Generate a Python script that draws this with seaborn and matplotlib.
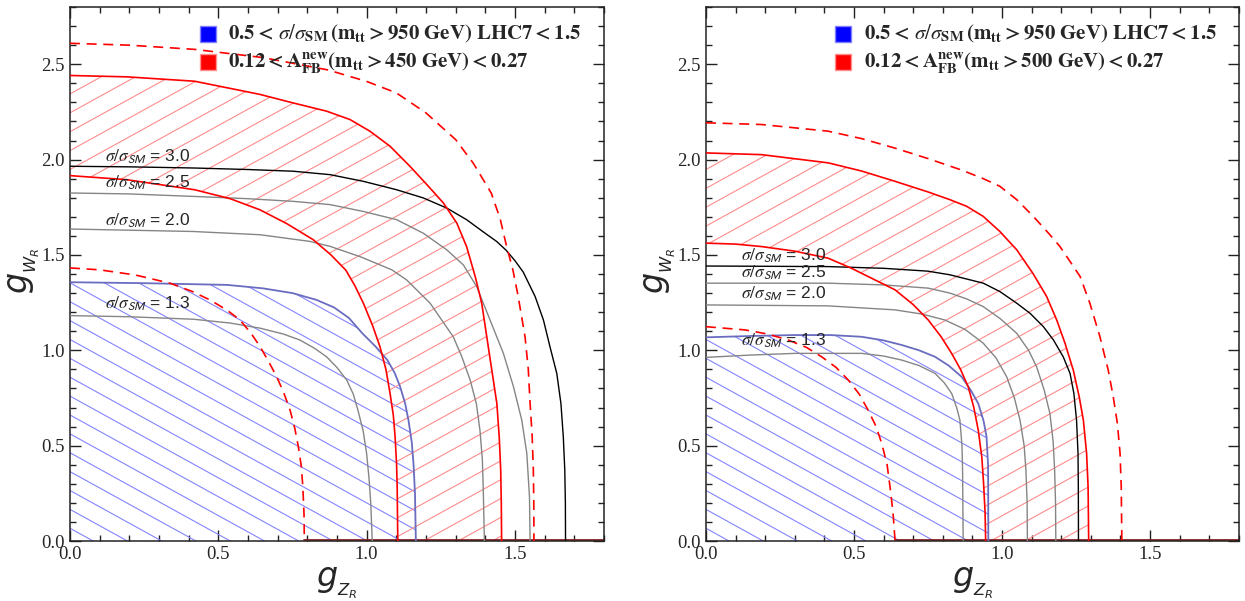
import numpy as np
import seaborn as sns
import matplotlib
matplotlib.use("Agg")
import matplotlib.pyplot as plt
from matplotlib.ticker import MultipleLocator, FormatStrFormatter

# ---- left panel (A_FB with m_tt > 450 GeV) ----
l_blue_x = [0.0, 0.25, 0.53, 0.65, 0.75, 0.83, 0.89, 0.94, 0.985, 1.03, 1.07, 1.095, 1.113, 1.13,
            1.141, 1.152, 1.158, 1.163, 1.166]
l_blue_y = [1.357, 1.352, 1.343, 1.325, 1.30, 1.265, 1.225, 1.17, 1.09, 1.02, 0.949, 0.88, 0.809, 0.72,
            0.634, 0.52, 0.406, 0.25, 0.0]
l_red_out_x = [0.0, 0.191, 0.42, 0.64, 0.75, 0.865, 0.944, 1.011, 1.079, 1.146, 1.203, 1.259, 1.304,
               1.337, 1.366, 1.388, 1.405, 1.422, 1.439, 1.447, 1.452, 1.454, 1.455]
l_red_out_y = [2.441, 2.434, 2.411, 2.342, 2.298, 2.254, 2.21, 2.149, 2.07, 1.965, 1.869, 1.772, 1.667,
               1.544, 1.387, 1.247, 1.071, 0.896, 0.721, 0.546, 0.371, 0.196, 0.0]
l_red_in_x = [0.0, 0.19, 0.42, 0.54, 0.64, 0.73, 0.82, 0.88, 0.93, 0.96, 0.989, 1.02, 1.045, 1.065,
              1.079, 1.09, 1.096, 1.101, 1.103, 1.105]
l_red_in_y = [1.916, 1.895, 1.842, 1.795, 1.737, 1.665, 1.58, 1.50, 1.42, 1.34, 1.247, 1.13, 1.019, 0.90,
              0.774, 0.66, 0.546, 0.40, 0.283, 0.0]
l_dash_out_x = [0.0, 0.2, 0.42, 0.65, 0.87, 1.0, 1.10, 1.2, 1.30, 1.36, 1.42, 1.45, 1.472, 1.493, 1.51,
                1.534, 1.545, 1.551, 1.558, 1.562, 1.5635, 1.564]
l_dash_out_y = [2.61, 2.60, 2.578, 2.535, 2.47, 2.41, 2.35, 2.245, 2.105, 1.98, 1.825, 1.69, 1.544, 1.422,
                1.29, 1.071, 0.90, 0.723, 0.55, 0.371, 0.2, 0.0]
l_dash_in_x = [0.0, 0.1, 0.22, 0.337, 0.41, 0.472, 0.53, 0.573, 0.61, 0.641, 0.67, 0.697, 0.72, 0.742,
               0.758, 0.77, 0.78, 0.785, 0.789, 0.79]
l_dash_in_y = [1.432, 1.422, 1.395, 1.352, 1.31, 1.264, 1.21, 1.159, 1.09, 1.019, 0.94, 0.861, 0.78, 0.686,
               0.59, 0.493, 0.39, 0.283, 0.14, 0.0]
l_s13_x = [0.0, 0.2, 0.416, 0.54, 0.641, 0.72, 0.775, 0.825, 0.865, 0.90, 0.933, 0.955, 0.97, 0.988, 1.0,
           1.008, 1.014, 1.019]
l_s13_y = [1.182, 1.176, 1.163, 1.143, 1.116, 1.085, 1.054, 1.01, 0.966, 0.91, 0.844, 0.77, 0.69, 0.58,
           0.459, 0.33, 0.196, 0.0]
l_s20_x = [0.0, 0.416, 0.641, 0.809, 0.877, 0.98, 1.085, 1.135, 1.214, 1.292, 1.32, 1.349, 1.37, 1.382,
           1.39, 1.393, 1.397]
l_s20_y = [1.636, 1.623, 1.606, 1.571, 1.545, 1.49, 1.422, 1.369, 1.247, 1.071, 0.97, 0.844, 0.72, 0.581,
           0.43, 0.283, 0.0]
l_s25_x = [0.0, 0.2, 0.416, 0.6, 0.753, 0.877, 0.989, 1.101, 1.191, 1.27, 1.326, 1.371, 1.416, 1.461,
           1.495, 1.523, 1.54, 1.549, 1.551]
l_s25_y = [1.825, 1.82, 1.807, 1.795, 1.781, 1.764, 1.728, 1.685, 1.614, 1.527, 1.448, 1.334, 1.159, 0.984,
           0.809, 0.634, 0.459, 0.231, 0.0]
l_s30_x = [0.0, 0.2, 0.416, 0.6, 0.753, 0.877, 0.989, 1.101, 1.191, 1.27, 1.337, 1.394, 1.439, 1.47,
           1.50, 1.528, 1.568, 1.596, 1.618, 1.641, 1.655, 1.663, 1.668, 1.67, 1.6705]
l_s30_y = [1.965, 1.962, 1.956, 1.948, 1.939, 1.921, 1.886, 1.842, 1.799, 1.746, 1.685, 1.62, 1.57,
           1.525, 1.47, 1.41, 1.282, 1.159, 1.019, 0.879, 0.721, 0.546, 0.371, 0.196, 0.0]
l_label_y = [1.195, 1.632, 1.83, 1.968]

# ---- right panel (A_FB with m_tt > 500 GeV) ----
r_blue_x = [0.0, 0.15, 0.30, 0.42, 0.526, 0.60, 0.661, 0.72, 0.774, 0.82, 0.864, 0.895, 0.92, 0.938,
            0.948, 0.953, 0.9535, 0.954]
r_blue_y = [1.068, 1.075, 1.08, 1.08, 1.071, 1.052, 1.028, 1.0, 0.966, 0.92, 0.861, 0.79, 0.721, 0.63,
            0.546, 0.40, 0.283, 0.0]
r_red_out_x = [0.0, 0.188, 0.413, 0.526, 0.639, 0.751, 0.824, 0.881, 0.937, 0.993, 1.05, 1.106, 1.151,
               1.185, 1.213, 1.241, 1.261, 1.275, 1.286, 1.291, 1.293]
r_red_out_y = [2.035, 2.026, 1.983, 1.94, 1.886, 1.83, 1.79, 1.755, 1.702, 1.623, 1.527, 1.40, 1.282,
               1.159, 1.037, 0.896, 0.756, 0.634, 0.459, 0.283, 0.0]
r_red_in_x = [0.0, 0.1, 0.188, 0.3, 0.413, 0.492, 0.57, 0.639, 0.70, 0.751, 0.795, 0.83, 0.86, 0.886,
              0.905, 0.92, 0.932, 0.938, 0.943, 0.945]
r_red_in_y = [1.562, 1.557, 1.544, 1.52, 1.483, 1.43, 1.37, 1.317, 1.24, 1.159, 1.07, 0.984, 0.90, 0.809,
              0.70, 0.581, 0.44, 0.301, 0.15, 0.0]
r_dash_out_x = [0.0, 0.188, 0.413, 0.526, 0.639, 0.751, 0.864, 0.937, 0.993, 1.05, 1.106, 1.162, 1.196,
                1.23, 1.264, 1.297, 1.331, 1.359, 1.376, 1.39, 1.399, 1.403, 1.405]
r_dash_out_y = [2.193, 2.184, 2.149, 2.11, 2.06, 2.005, 1.945, 1.90, 1.86, 1.79, 1.702, 1.606, 1.544,
                1.466, 1.387, 1.247, 1.071, 0.896, 0.756, 0.616, 0.459, 0.283, 0.0]
r_dash_in_x = [0.0, 0.132, 0.21, 0.278, 0.34, 0.391, 0.44, 0.481, 0.518, 0.548, 0.575, 0.594, 0.612,
               0.622, 0.632, 0.639]
r_dash_in_y = [1.124, 1.107, 1.085, 1.054, 1.015, 0.966, 0.91, 0.844, 0.77, 0.686, 0.60, 0.511, 0.40,
               0.283, 0.15, 0.0]
r_s13_x = [0.0, 0.15, 0.301, 0.526, 0.60, 0.661, 0.72, 0.774, 0.805, 0.83, 0.847, 0.858, 0.865, 0.867,
           0.869]
r_s13_y = [0.963, 0.975, 0.984, 0.984, 0.97, 0.949, 0.92, 0.879, 0.83, 0.774, 0.70, 0.634, 0.50, 0.371,
           0.0]
r_s20_x = [0.0, 0.413, 0.639, 0.73, 0.807, 0.875, 0.937, 0.98, 1.016, 1.042, 1.061, 1.075, 1.081, 1.085,
           1.086]
r_s20_y = [1.238, 1.233, 1.212, 1.19, 1.159, 1.11, 1.037, 0.96, 0.861, 0.75, 0.634, 0.50, 0.371, 0.2, 0.0]
r_s25_x = [0.0, 0.413, 0.6, 0.751, 0.824, 0.88, 0.937, 0.995, 1.05, 1.09, 1.117, 1.143, 1.162, 1.173,
           1.178, 1.181, 1.182]
r_s25_y = [1.352, 1.352, 1.343, 1.326, 1.30, 1.27, 1.229, 1.165, 1.089, 1.0, 0.914, 0.79, 0.669, 0.52,
           0.371, 0.2, 0.0]
r_s30_x = [0.0, 0.413, 0.6, 0.75, 0.824, 0.937, 0.993, 1.05, 1.095, 1.14, 1.174, 1.207, 1.23, 1.243,
           1.252, 1.257, 1.258, 1.2585]
r_s30_y = [1.442, 1.439, 1.43, 1.415, 1.396, 1.352, 1.308, 1.247, 1.194, 1.124, 1.054, 0.966, 0.879,
           0.774, 0.634, 0.459, 0.283, 0.0]
r_label_y = [1.0, 1.25, 1.36, 1.448]

label_vals = ["1.3", "2.0", "2.5", "3.0"]
legend_blue = r"$\mathbf{0.5 < }\,\sigma/\sigma_{\mathbf{SM}}\,\mathbf{(m_{tt} > 950\ GeV)\ LHC7 < 1.5}$"
legend_red_l = r"$\mathbf{0.12 < A_{FB}^{new}(m_{tt} > 450\ GeV) < 0.27}$"
legend_red_r = r"$\mathbf{0.12 < A_{FB}^{new}(m_{tt} > 500\ GeV) < 0.27}$"

sns.set_style("ticks")
plt.rcParams["font.family"] = ["Liberation Serif", "DejaVu Serif"]
plt.rcParams["mathtext.fontset"] = "stix"


def hatch(ax, px, py, color, sign):
    # hatch lines at ~30 degrees, clipped to the region
    patch = ax.fill(px, py, facecolor="none", edgecolor="none")[0]
    xs = np.array([-0.1, 1.9])
    for c in np.arange(-3.2, 4.5, 0.099):
        ln, = ax.plot(xs, sign * 0.857 * xs + c, color=color, lw=0.8, zorder=1)
        ln.set_clip_path(patch)


def curve(ax, x, y, color, lw=1.0, ls="-"):
    sns.lineplot(x=x, y=y, ax=ax, color=color, lw=lw, linestyle=ls, sort=False,
                 estimator=None, zorder=3)


def panel(ax, d, label_y, red_text):
    blue_x, blue_y, ro_x, ro_y, ri_x, ri_y, do_x, do_y, di_x, di_y, grays = d
    hatch(ax, [0] + blue_x, [0] + blue_y, "#8484ff", -1)
    hatch(ax, ro_x + ri_x[::-1], ro_y + ri_y[::-1], "#ff8c8c", 1)
    for (gx, gy), col in zip(grays, ["#858585", "#858585", "#858585", "#000000"]):
        curve(ax, gx, gy, col, lw=1.0)
    curve(ax, blue_x, blue_y, "#6a6cc0", lw=1.3)
    curve(ax, ro_x, ro_y, "#ff0000", lw=1.2)
    curve(ax, ri_x, ri_y, "#ff0000", lw=1.2)
    curve(ax, do_x, do_y, "#ff0000", lw=1.2, ls=(0, (6, 4)))
    curve(ax, di_x, di_y, "#ff0000", lw=1.2, ls=(0, (6, 4)))
    ax.plot([di_x[-1], 1.8], [0.004, 0.004], color="#8a2020", lw=1.3, zorder=2)

    for ly, lv in zip(label_y, label_vals):
        ax.text(0.118, ly, r"$\sigma/\sigma_{\mathsf{SM}}$ = " + lv, fontsize=12.5,
                family="Liberation Sans", va="bottom", ha="left", zorder=5)

    ax.set_xlim(0, 1.8)
    ax.set_ylim(0, 2.8)
    ax.xaxis.set_major_locator(MultipleLocator(0.5))
    ax.xaxis.set_minor_locator(MultipleLocator(0.1))
    ax.yaxis.set_major_locator(MultipleLocator(0.5))
    ax.yaxis.set_minor_locator(MultipleLocator(0.1))
    ax.tick_params(which="both", direction="in", top=True, right=True, labelsize=13.5,
                   width=1, color="#222222")
    ax.tick_params(which="major", length=8)
    ax.tick_params(which="minor", length=4)
    ax.xaxis.set_major_formatter(FormatStrFormatter("%.1f"))
    ax.yaxis.set_major_formatter(FormatStrFormatter("%.1f"))
    for s in ax.spines.values():
        s.set_linewidth(1.1)
        s.set_color("#222222")

    ax.set_xlabel(r"$g_{_{Z_R}}$", fontsize=24, math_fontfamily="dejavusans")
    ax.xaxis.set_label_coords(0.5, -0.046)
    ax.set_ylabel(r"$g_{_{W_R}}$", fontsize=24, math_fontfamily="dejavusans")
    ax.yaxis.set_label_coords(-0.052, 0.506)

    # legend boxes
    ax.plot([0.258], [0.949], marker="s", ms=11, mfc="#0000ff", mec="#8080ff", mew=1,
            transform=ax.transAxes, zorder=6)
    ax.plot([0.258], [0.897], marker="s", ms=11, mfc="#ff0000", mec="#ff9090", mew=1,
            transform=ax.transAxes, zorder=6)
    ax.text(0.296, 0.949, legend_blue, transform=ax.transAxes, fontsize=15,
            va="center", ha="left", zorder=6)
    ax.text(0.296, 0.897, red_text, transform=ax.transAxes, fontsize=15,
            va="center", ha="left", zorder=6)


fig = plt.figure(figsize=(12.45, 6.01), dpi=100)
ax1 = fig.add_axes([0.0562, 0.0998, 0.4289, 0.8885])
ax2 = fig.add_axes([0.567, 0.0998, 0.428, 0.8885])

left = (l_blue_x, l_blue_y, l_red_out_x, l_red_out_y, l_red_in_x, l_red_in_y,
        l_dash_out_x, l_dash_out_y, l_dash_in_x, l_dash_in_y,
        [(l_s13_x, l_s13_y), (l_s20_x, l_s20_y), (l_s25_x, l_s25_y), (l_s30_x, l_s30_y)])
right = (r_blue_x, r_blue_y, r_red_out_x, r_red_out_y, r_red_in_x, r_red_in_y,
         r_dash_out_x, r_dash_out_y, r_dash_in_x, r_dash_in_y,
         [(r_s13_x, r_s13_y), (r_s20_x, r_s20_y), (r_s25_x, r_s25_y), (r_s30_x, r_s30_y)])

panel(ax1, left, l_label_y, legend_red_l)
panel(ax2, right, r_label_y, legend_red_r)

fig.savefig("out.png", dpi=100)
